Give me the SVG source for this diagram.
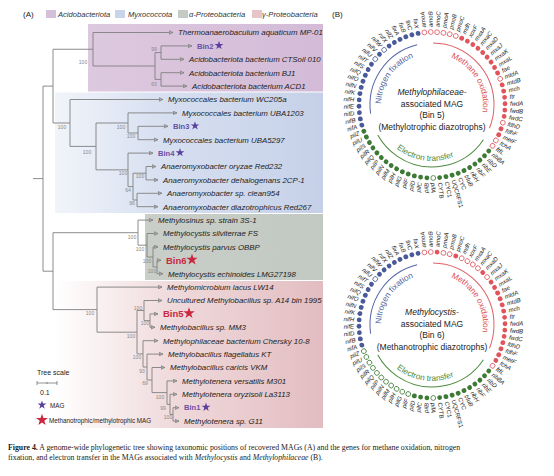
<svg xmlns="http://www.w3.org/2000/svg" width="554" height="476" viewBox="0 0 554 476">
<defs>
<style>
.t{font-family:"Liberation Sans",Arial,sans-serif;font-style:italic;font-size:7.85px;fill:#222}
.lg{font-family:"Liberation Sans",Arial,sans-serif;font-style:italic;font-size:7.6px;fill:#333}
.bs{font-family:"Liberation Sans",Arial,sans-serif;font-size:5px;fill:#888;text-anchor:middle}
.br{fill:none;stroke:#808080;stroke-width:0.9}
.tip{fill:none;stroke:#808080;stroke-width:0.9;marker-end:url(#ar)}
.binp{font-family:"Liberation Sans",Arial,sans-serif;font-weight:bold;font-size:7.6px;fill:#6a4fa5}
.binr{font-family:"Liberation Sans",Arial,sans-serif;font-weight:bold;font-size:9.5px;fill:#c9283e}
.sp{fill:#5b3f9c}
.sr{fill:#c9283e}
.g{font-family:"Liberation Sans",Arial,sans-serif;font-style:italic;font-size:6px;fill:#222}
.gu{font-style:normal}
.e{text-anchor:end}
.db{fill:#4a5a98}
.dbo{fill:#fff;stroke:#4a5a98;stroke-width:0.8}
.dr{fill:#e0555c}
.dro{fill:#fff;stroke:#e0555c;stroke-width:0.8}
.dg{fill:#3d7a35}
.dgo{fill:#fff;stroke:#3d7a35;stroke-width:0.8}
.ctr{font-family:"Liberation Sans",Arial,sans-serif;font-size:8.5px;fill:#222;text-anchor:middle}
.arcT{font-family:"Liberation Sans",Arial,sans-serif;font-size:8.3px;text-anchor:middle}
.cap{font-family:"Liberation Serif","Times New Roman",serif;font-size:7.8px;fill:#222}
.sm{font-family:"Liberation Sans",Arial,sans-serif;fill:#222}
</style>
<marker id="ar" viewBox="0 0 6 6" refX="5.5" refY="3" markerWidth="4.5" markerHeight="4.5" orient="auto" markerUnits="userSpaceOnUse"><path d="M0.5,0.6 L5.5,3 L0.5,5.4 Z" fill="#aaa" stroke="#777" stroke-width="0.8"/></marker>
<path id="star" d="M0,-1 L0.2245,-0.309 L0.951,-0.309 L0.363,0.118 L0.588,0.809 L0,0.382 L-0.588,0.809 L-0.363,0.118 L-0.951,-0.309 L-0.2245,-0.309 Z"/>
<linearGradient id="gA" gradientUnits="userSpaceOnUse" x1="88" y1="0" x2="323" y2="0"><stop offset="0" stop-color="#ddc9df"/><stop offset="1" stop-color="#d3bbd7"/></linearGradient>
<linearGradient id="gM" gradientUnits="userSpaceOnUse" x1="55" y1="0" x2="323" y2="0"><stop offset="0" stop-color="#d0daee" stop-opacity="0.3"/><stop offset="0.4" stop-color="#d0daee" stop-opacity="0.85"/><stop offset="1" stop-color="#c5d0e8"/></linearGradient>
<linearGradient id="gP" gradientUnits="userSpaceOnUse" x1="145" y1="0" x2="323" y2="0"><stop offset="0" stop-color="#c9cec9"/><stop offset="1" stop-color="#c2c8c2"/></linearGradient>
<linearGradient id="gG" gradientUnits="userSpaceOnUse" x1="55" y1="0" x2="323" y2="0"><stop offset="0" stop-color="#e8c8cb" stop-opacity="0"/><stop offset="0.45" stop-color="#e8c8cb" stop-opacity="0.7"/><stop offset="1" stop-color="#e2bcc0"/></linearGradient>
<path id="cw51" d="M0,51 A51,51 0 1,1 0,-51 A51,51 0 1,1 0,51"/>
<path id="ccw56" d="M0,-56 A56,56 0 1,0 0,56 A56,56 0 1,0 0,-56"/>
<g id="glabels" class="g">
<text transform="rotate(-96)" x="78" y="2.1">amoA</text>
<text transform="rotate(-91)" x="78" y="2.1">amoB</text>
<text transform="rotate(-86)" x="78" y="2.1">amoC</text>
<text transform="rotate(-81)" x="78" y="2.1">pmoA</text>
<text transform="rotate(-76)" x="78" y="2.1">pmoB</text>
<text transform="rotate(-71)" x="78" y="2.1">pmoC</text>
<text transform="rotate(-66)" x="78" y="2.1">mdh</text>
<text transform="rotate(-61)" x="78" y="2.1">xoxF</text>
<text transform="rotate(-56)" x="78" y="2.1">mxaA</text>
<text transform="rotate(-51)" x="78" y="2.1">mxaC</text>
<text transform="rotate(-46)" x="78" y="2.1">mxaD</text>
<text transform="rotate(-41)" x="78" y="2.1">mxaJ</text>
<text transform="rotate(-36)" x="78" y="2.1">mxaK</text>
<text transform="rotate(-31)" x="78" y="2.1">mxaL</text>
<text transform="rotate(-26)" x="78" y="2.1">fae</text>
<text transform="rotate(-21)" x="78" y="2.1">mtdA</text>
<text transform="rotate(-16)" x="78" y="2.1">mtdB</text>
<text transform="rotate(-11)" x="78" y="2.1">mch</text>
<text transform="rotate(-6)" x="78" y="2.1">ftr</text>
<text transform="rotate(-1)" x="78" y="2.1">fwdA</text>
<text transform="rotate(4)" x="78" y="2.1">fwdB</text>
<text transform="rotate(9)" x="78" y="2.1">fwdC</text>
<text transform="rotate(14)" x="78" y="2.1">fdhD</text>
<text transform="rotate(19)" x="78" y="2.1">fdhF</text>
<text transform="rotate(24)" x="78" y="2.1">metF</text>
<text transform="rotate(29)" x="78" y="2.1">fchA</text>
<text transform="rotate(34)" x="78" y="2.1">ftfL</text>
<text transform="rotate(39)" x="78" y="2.1">ribBA</text>
<text transform="rotate(44)" x="78" y="2.1">ribD</text>
<text transform="rotate(49)" x="78" y="2.1">ribE</text>
<text transform="rotate(54)" x="78" y="2.1">ribF</text>
<text transform="rotate(59)" x="78" y="2.1">ribH</text>
<text transform="rotate(64)" x="78" y="2.1">bfuB</text>
<text class="gu" transform="rotate(69)" x="78" y="2.1">CYC</text>
<text class="gu" transform="rotate(74)" x="78" y="2.1">UQCRFS1</text>
<text class="gu" transform="rotate(79)" x="78" y="2.1">CYC1</text>
<text class="gu" transform="rotate(84)" x="78" y="2.1">CYTB</text>
<text transform="rotate(89)" x="78" y="2.1">pilA</text>
<text class="e" transform="rotate(274)" x="-78" y="2.1">pilB</text>
<text class="e" transform="rotate(279)" x="-78" y="2.1">pilC</text>
<text class="e" transform="rotate(284)" x="-78" y="2.1">pilD</text>
<text class="e" transform="rotate(289)" x="-78" y="2.1">pilF</text>
<text class="e" transform="rotate(294)" x="-78" y="2.1">pilG</text>
<text class="e" transform="rotate(299)" x="-78" y="2.1">pilH</text>
<text class="e" transform="rotate(304)" x="-78" y="2.1">pilM</text>
<text class="e" transform="rotate(309)" x="-78" y="2.1">pilN</text>
<text class="e" transform="rotate(314)" x="-78" y="2.1">pilP</text>
<text class="e" transform="rotate(319)" x="-78" y="2.1">pilQ</text>
<text class="e" transform="rotate(324)" x="-78" y="2.1">pilR</text>
<text class="e" transform="rotate(329)" x="-78" y="2.1">pilS</text>
<text class="e" transform="rotate(334)" x="-78" y="2.1">pilU</text>
<text class="e" transform="rotate(339)" x="-78" y="2.1">pilZ</text>
<text class="e" transform="rotate(344)" x="-78" y="2.1">nifA</text>
<text class="e" transform="rotate(349)" x="-78" y="2.1">nifB</text>
<text class="e" transform="rotate(354)" x="-78" y="2.1">nifD</text>
<text class="e" transform="rotate(359)" x="-78" y="2.1">nifE</text>
<text class="e" transform="rotate(4)" x="-78" y="2.1">nifH</text>
<text class="e" transform="rotate(9)" x="-78" y="2.1">nifK</text>
<text class="e" transform="rotate(14)" x="-78" y="2.1">nifN</text>
<text class="e" transform="rotate(19)" x="-78" y="2.1">nifO</text>
<text class="e" transform="rotate(24)" x="-78" y="2.1">nifQ</text>
<text class="e" transform="rotate(29)" x="-78" y="2.1">nifS</text>
<text class="e" transform="rotate(34)" x="-78" y="2.1">nifT</text>
<text class="e" transform="rotate(39)" x="-78" y="2.1">nifU</text>
<text class="e" transform="rotate(44)" x="-78" y="2.1">nifV</text>
<text class="e" transform="rotate(49)" x="-78" y="2.1">nifW</text>
<text class="e" transform="rotate(54)" x="-78" y="2.1">nifX</text>
<text class="e" transform="rotate(59)" x="-78" y="2.1">nifZ</text>
<text class="e" transform="rotate(64)" x="-78" y="2.1">fixA</text>
<text class="e" transform="rotate(69)" x="-78" y="2.1">fixB</text>
<text class="e" transform="rotate(74)" x="-78" y="2.1">fixC</text>
<text class="e" transform="rotate(79)" x="-78" y="2.1">fixX</text>
</g>
<g id="arcs" fill="none" stroke-width="1">
<circle r="62" pathLength="360" stroke="#5466a6" stroke-dasharray="84 360" transform="rotate(172)"/>
<circle r="62" pathLength="360" stroke="#e06063" stroke-dasharray="111 360" transform="rotate(-89)"/>
<circle r="62" pathLength="360" stroke="#4a8a3c" stroke-dasharray="117 360" transform="rotate(34)"/>
</g>
</defs>
<rect width="554" height="476" fill="#fff"/>

<!-- Panel A legend -->
<g id="legendA">
<text class="sm" x="23" y="17" font-size="8">(A)</text>
<rect x="46" y="10" width="10" height="8" fill="#d6bfd9"/>
<text class="lg" x="58" y="17">Acidobacteriota</text>
<rect x="115" y="10" width="10" height="8" fill="#c9d4ea"/>
<text class="lg" x="128" y="17">Myxococcota</text>
<rect x="178" y="10" width="10" height="8" fill="#c4cac4"/>
<text class="lg" x="189" y="17">α-Proteobacteria</text>
<rect x="252" y="10" width="10" height="8" fill="#e6c4c7"/>
<text class="lg" x="262" y="17">γ-Proteobacteria</text>
</g>

<!-- bands -->
<g id="bands">
<rect x="88" y="24" width="235" height="67.5" fill="url(#gA)"/>
<rect x="55" y="92.5" width="268" height="120.5" fill="url(#gM)"/>
<rect x="145" y="214" width="178" height="66" fill="url(#gP)"/>
<rect x="55" y="281" width="268" height="147" fill="url(#gG)"/>
</g>

<!-- tree connectors -->
<g id="connectors">
<path class="br" d="M33,178.6 H43 M43,86.1 V271.2
M43,86.1 H53 M53,49.25 V123
M53,49.25 H93 M93,32.5 V66
M93,66 H155 M155,52.6 V79.4
M155,52.6 H161 M161,45.9 V59.3
M155,79.4 H161 M161,72.7 V86.1
M53,123 H70 M70,99.5 V146.4
M70,146.4 H96 M96,123 V169.85
M96,123 H128 M128,112.9 V133
M128,133 H138 M138,126.3 V139.7
M96,169.85 H128 M128,153.1 V186.6
M128,186.6 H133 M133,173.2 V200
M133,173.2 H146 M146,166.5 V179.9
M133,200 H137 M137,193.3 V206.7
M43,271.2 H53 M53,232.7 V309.6
M53,232.7 H138 M138,220.1 V245.2
M138,245.2 H147 M147,233.5 V257
M147,257 H153 M153,246.9 V267
M153,267 H157 M157,260.3 V273.7
M53,309.6 H97 M97,287.1 V332.2
M97,332.2 H137 M137,310.5 V353.9
M137,310.5 H144 M144,300.5 V320.6
M144,320.6 H150 M150,313.9 V327.3
M137,353.9 H143 M143,340.7 V367
M143,367 H147 M147,354.1 V380
M147,380 H152 M152,367.5 V392.6
M152,392.6 H167 M167,380.9 V404.4
M167,404.4 H170 M170,394.3 V414.4
M170,414.4 H173 M173,407.7 V421.1"/>
<path class="tip" d="M93,32.5 H173"/>
<path class="tip" d="M161,45.9 H192"/>
<path class="tip" d="M161,59.3 H184"/>
<path class="tip" d="M161,72.7 H184"/>
<path class="tip" d="M161,86.1 H187"/>
<path class="tip" d="M70,99.5 H163"/>
<path class="tip" d="M128,112.9 H177"/>
<path class="tip" d="M138,126.3 H168"/>
<path class="tip" d="M138,139.7 H158"/>
<path class="tip" d="M128,153.1 H153"/>
<path class="tip" d="M146,166.5 H156"/>
<path class="tip" d="M146,179.9 H158"/>
<path class="tip" d="M137,193.3 H162"/>
<path class="tip" d="M137,206.7 H158"/>
<path class="tip" d="M138,220.1 H153"/>
<path class="tip" d="M147,233.5 H158"/>
<path class="tip" d="M153,246.9 H158"/>
<path class="tip" d="M157,260.3 H161"/>
<path class="tip" d="M157,273.7 H163"/>
<path class="tip" d="M97,287.1 H162"/>
<path class="tip" d="M144,300.5 H162"/>
<path class="tip" d="M150,313.9 H158"/>
<path class="tip" d="M150,327.3 H155"/>
<path class="tip" d="M143,340.7 H158"/>
<path class="tip" d="M147,354.1 H163"/>
<path class="tip" d="M152,367.5 H165"/>
<path class="tip" d="M167,380.9 H177"/>
<path class="tip" d="M170,394.3 H177"/>
<path class="tip" d="M173,407.7 H179"/>
<path class="tip" d="M173,421.1 H179"/>
</g>

<!-- bootstrap values -->
<g id="bootstrap" class="bs">
<text x="83" y="64">100</text>
<text x="154" y="50.5">99</text>
<text x="154" y="86">63</text>
<text x="62" y="129">100</text>
<text x="87" y="154">100</text>
<text x="121" y="129">100</text>
<text x="131" y="138">100</text>
<text x="123" y="175">100</text>
<text x="140" y="178">100</text>
<text x="128" y="192">64</text>
<text x="132" y="205">96</text>
<text x="132" y="239">100</text>
<text x="140" y="251">100</text>
<text x="147" y="263">100</text>
<text x="152" y="273">100</text>
<text x="90" y="315">100</text>
<text x="131" y="338">100</text>
<text x="138" y="310">100</text>
<text x="145" y="325">100</text>
<text x="137" y="359">100</text>
<text x="142" y="373">93</text>
<text x="145" y="385">69</text>
<text x="160" y="399">100</text>
<text x="163" y="410">99</text>
<text x="168" y="419">100</text>
</g>

<!-- tips -->
<g id="tip-thermo"><text class="t" x="178" y="35.3">Thermoanaerobaculum aquaticum MP-01</text></g>
<g id="tip-bin2"><text class="binp" x="197" y="48.6">Bin2</text><use href="#star" class="sp" transform="translate(219,45.4) scale(4.6)"/></g>
<g id="tip-ctsoil"><text class="t" x="189" y="62.1">Acidobacteriota bacterium CTSoil 010</text></g>
<g id="tip-bj1"><text class="t" x="189" y="75.5">Acidobacteriota bacterium BJ1</text></g>
<g id="tip-acd1"><text class="t" x="192" y="88.9">Acidobacteriota bacterium ACD1</text></g>
<g id="tip-wc205a"><text class="t" x="168" y="102.3">Myxococcales bacterium WC205a</text></g>
<g id="tip-uba1203"><text class="t" x="182" y="115.7">Myxococcales bacterium UBA1203</text></g>
<g id="tip-bin3"><text class="binp" x="173" y="129">Bin3</text><use href="#star" class="sp" transform="translate(195,125.8) scale(4.6)"/></g>
<g id="tip-uba5297"><text class="t" x="163" y="142.5">Myxococcales bacterium UBA5297</text></g>
<g id="tip-bin4"><text class="binp" x="158" y="155.8">Bin4</text><use href="#star" class="sp" transform="translate(180,152.6) scale(4.6)"/></g>
<g id="tip-oryzae"><text class="t" x="161" y="169.3">Anaeromyxobacter oryzae Red232</text></g>
<g id="tip-dehal"><text class="t" x="163" y="182.7">Anaeromyxobacter dehalogenans 2CP-1</text></g>
<g id="tip-clean954"><text class="t" x="167" y="196.1">Anaeromyxobacter sp. clean954</text></g>
<g id="tip-red267"><text class="t" x="163" y="209.5">Anaeromyxobacter diazotrophicus Red267</text></g>
<g id="tip-methylosinus"><text class="t" x="158" y="222.9">Methylosinus sp. strain 3S-1</text></g>
<g id="tip-silviterrae"><text class="t" x="163" y="236.3">Methylocystis silviterrae FS</text></g>
<g id="tip-parvus"><text class="t" x="163" y="249.7">Methylocystis parvus OBBP</text></g>
<g id="tip-bin6"><text class="binr" x="166" y="263.6">Bin6</text><use href="#star" class="sr" transform="translate(192,259.6) scale(6)"/></g>
<g id="tip-echinoides"><text class="t" x="168" y="276.5">Methylocystis echinoides LMG27198</text></g>
<g id="tip-lacus"><text class="t" x="167" y="289.9">Methylomicrobium lacus LW14</text></g>
<g id="tip-a14"><text class="t" x="167" y="303.3">Uncultured Methylobacillus sp. A14 bin 1995</text></g>
<g id="tip-bin5"><text class="binr" x="163" y="317.2">Bin5</text><use href="#star" class="sr" transform="translate(189,313.2) scale(6)"/></g>
<g id="tip-mm3"><text class="t" x="160" y="330.1">Methylobacillus sp. MM3</text></g>
<g id="tip-chersky"><text class="t" x="163" y="343.5">Methylophilaceae bacterium Chersky 10-8</text></g>
<g id="tip-flagellatus"><text class="t" x="168" y="356.9">Methylobacillus flagellatus KT</text></g>
<g id="tip-caricis"><text class="t" x="170" y="370.3">Methylobacillus caricis VKM</text></g>
<g id="tip-versatilis"><text class="t" x="182" y="383.7">Methylotenera versatilis M301</text></g>
<g id="tip-oryzisoli"><text class="t" x="182" y="397.1">Methylotenera oryzisoli La3113</text></g>
<g id="tip-bin1"><text class="binp" x="184" y="410.4">Bin1</text><use href="#star" class="sp" transform="translate(206,407.2) scale(4.6)"/></g>
<g id="tip-g11"><text class="t" x="184" y="423.9">Methylotenera sp. G11</text></g>

<!-- scale and legend -->
<g id="scale">
<text class="sm" x="37" y="375" font-size="7">Tree scale</text>
<path d="M37,383 H57 M37,381 V385 M57,381 V385 M47,382 V384" stroke="#666" stroke-width="0.7" fill="none"/>
<text class="sm" x="40" y="394.5" font-size="7">0.1</text>
</g>
<g id="legendMAG">
<use href="#star" class="sp" transform="translate(42,405) scale(4.6)"/>
<text class="sm" x="50" y="407.5" font-size="6.3">MAG</text>
<use href="#star" class="sr" transform="translate(42,420) scale(6.3)"/>
<text class="sm" x="49" y="422.5" font-size="6.3">Methanotrophic/methylotrophic MAG</text>
</g>

<!-- Panel B -->
<text class="sm" x="332" y="17" font-size="8">(B)</text>

<g id="bin5-circle" transform="translate(432,105)">
<use href="#arcs"/>
<g><text class="arcT" fill="#4d5fa0" transform="rotate(305)"><textPath href="#cw51" startOffset="50%">Nitrogen fixation</textPath></text></g>
<g><text class="arcT" fill="#dc4f55" transform="rotate(60)"><textPath href="#cw51" startOffset="50%">Methane oxidation</textPath></text></g>
<g><text class="arcT" fill="#4a8a3c" transform="rotate(8)"><textPath href="#ccw56" startOffset="50%">Electron transfer</textPath></text></g>
<text class="ctr" y="-10" font-style="italic">Methylophilaceae-</text>
<text class="ctr" y="1.5">associated MAG</text>
<text class="ctr" y="13">(Bin 5)</text>
<text class="ctr" y="24.5">(Methylotrophic diazotrophs)</text>
<use href="#glabels"/>
<g>
<circle class="dro" transform="rotate(-6)" cy="-73" r="2.4"/>
<circle class="dro" transform="rotate(-1)" cy="-73" r="2.4"/>
<circle class="dro" transform="rotate(4)" cy="-73" r="2.4"/>
<circle class="dro" transform="rotate(9)" cy="-73" r="2.4"/>
<circle class="dro" transform="rotate(14)" cy="-73" r="2.4"/>
<circle class="dro" transform="rotate(19)" cy="-73" r="2.4"/>
<circle class="dr" transform="rotate(24)" cy="-73" r="2.4"/>
<circle class="dr" transform="rotate(29)" cy="-73" r="2.4"/>
<circle class="dr" transform="rotate(34)" cy="-73" r="2.4"/>
<circle class="dr" transform="rotate(39)" cy="-73" r="2.4"/>
<circle class="dr" transform="rotate(44)" cy="-73" r="2.4"/>
<circle class="dr" transform="rotate(49)" cy="-73" r="2.4"/>
<circle class="dr" transform="rotate(54)" cy="-73" r="2.4"/>
<circle class="dr" transform="rotate(59)" cy="-73" r="2.4"/>
<circle class="dr" transform="rotate(64)" cy="-73" r="2.4"/>
<circle class="dro" transform="rotate(69)" cy="-73" r="2.4"/>
<circle class="dr" transform="rotate(74)" cy="-73" r="2.4"/>
<circle class="dr" transform="rotate(79)" cy="-73" r="2.4"/>
<circle class="dr" transform="rotate(84)" cy="-73" r="2.4"/>
<circle class="dr" transform="rotate(89)" cy="-73" r="2.4"/>
<circle class="dr" transform="rotate(94)" cy="-73" r="2.4"/>
<circle class="dr" transform="rotate(99)" cy="-73" r="2.4"/>
<circle class="dro" transform="rotate(104)" cy="-73" r="2.4"/>
<circle class="dr" transform="rotate(109)" cy="-73" r="2.4"/>
<circle class="dr" transform="rotate(114)" cy="-73" r="2.4"/>
<circle class="dro" transform="rotate(119)" cy="-73" r="2.4"/>
<circle class="dro" transform="rotate(124)" cy="-73" r="2.4"/>
<circle class="dg" transform="rotate(129)" cy="-73" r="2.4"/>
<circle class="dg" transform="rotate(134)" cy="-73" r="2.4"/>
<circle class="dg" transform="rotate(139)" cy="-73" r="2.4"/>
<circle class="dg" transform="rotate(144)" cy="-73" r="2.4"/>
<circle class="dg" transform="rotate(149)" cy="-73" r="2.4"/>
<circle class="dg" transform="rotate(154)" cy="-73" r="2.4"/>
<circle class="dg" transform="rotate(159)" cy="-73" r="2.4"/>
<circle class="dg" transform="rotate(164)" cy="-73" r="2.4"/>
<circle class="dg" transform="rotate(169)" cy="-73" r="2.4"/>
<circle class="dg" transform="rotate(174)" cy="-73" r="2.4"/>
<circle class="dgo" transform="rotate(179)" cy="-73" r="2.4"/>
<circle class="dg" transform="rotate(184)" cy="-73" r="2.4"/>
<circle class="dg" transform="rotate(189)" cy="-73" r="2.4"/>
<circle class="dg" transform="rotate(194)" cy="-73" r="2.4"/>
<circle class="dg" transform="rotate(199)" cy="-73" r="2.4"/>
<circle class="dg" transform="rotate(204)" cy="-73" r="2.4"/>
<circle class="dg" transform="rotate(209)" cy="-73" r="2.4"/>
<circle class="dg" transform="rotate(214)" cy="-73" r="2.4"/>
<circle class="dg" transform="rotate(219)" cy="-73" r="2.4"/>
<circle class="dg" transform="rotate(224)" cy="-73" r="2.4"/>
<circle class="dg" transform="rotate(229)" cy="-73" r="2.4"/>
<circle class="dg" transform="rotate(234)" cy="-73" r="2.4"/>
<circle class="dg" transform="rotate(239)" cy="-73" r="2.4"/>
<circle class="dg" transform="rotate(244)" cy="-73" r="2.4"/>
<circle class="dg" transform="rotate(249)" cy="-73" r="2.4"/>
<circle class="db" transform="rotate(254)" cy="-73" r="2.4"/>
<circle class="db" transform="rotate(259)" cy="-73" r="2.4"/>
<circle class="db" transform="rotate(264)" cy="-73" r="2.4"/>
<circle class="db" transform="rotate(269)" cy="-73" r="2.4"/>
<circle class="db" transform="rotate(274)" cy="-73" r="2.4"/>
<circle class="db" transform="rotate(279)" cy="-73" r="2.4"/>
<circle class="db" transform="rotate(284)" cy="-73" r="2.4"/>
<circle class="db" transform="rotate(289)" cy="-73" r="2.4"/>
<circle class="db" transform="rotate(294)" cy="-73" r="2.4"/>
<circle class="db" transform="rotate(299)" cy="-73" r="2.4"/>
<circle class="db" transform="rotate(304)" cy="-73" r="2.4"/>
<circle class="dbo" transform="rotate(309)" cy="-73" r="2.4"/>
<circle class="db" transform="rotate(314)" cy="-73" r="2.4"/>
<circle class="dbo" transform="rotate(319)" cy="-73" r="2.4"/>
<circle class="db" transform="rotate(324)" cy="-73" r="2.4"/>
<circle class="db" transform="rotate(329)" cy="-73" r="2.4"/>
<circle class="db" transform="rotate(334)" cy="-73" r="2.4"/>
<circle class="db" transform="rotate(339)" cy="-73" r="2.4"/>
<circle class="db" transform="rotate(344)" cy="-73" r="2.4"/>
<circle class="db" transform="rotate(349)" cy="-73" r="2.4"/>
</g>
</g>

<g id="bin6-circle" transform="translate(432,325)">
<use href="#arcs"/>
<g><text class="arcT" fill="#4d5fa0" transform="rotate(305)"><textPath href="#cw51" startOffset="50%">Nitrogen fixation</textPath></text></g>
<g><text class="arcT" fill="#dc4f55" transform="rotate(60)"><textPath href="#cw51" startOffset="50%">Methane oxidation</textPath></text></g>
<g><text class="arcT" fill="#4a8a3c" transform="rotate(8)"><textPath href="#ccw56" startOffset="50%">Electron transfer</textPath></text></g>
<text class="ctr" y="-10" font-style="italic">Methylocystis-</text>
<text class="ctr" y="1.5">associated MAG</text>
<text class="ctr" y="13">(Bin 6)</text>
<text class="ctr" y="24.5">(Methanotrophic diazotrophs)</text>
<use href="#glabels"/>
<g>
<circle class="dro" transform="rotate(-6)" cy="-73" r="2.4"/>
<circle class="dro" transform="rotate(-1)" cy="-73" r="2.4"/>
<circle class="dr" transform="rotate(4)" cy="-73" r="2.4"/>
<circle class="dro" transform="rotate(9)" cy="-73" r="2.4"/>
<circle class="dro" transform="rotate(14)" cy="-73" r="2.4"/>
<circle class="dr" transform="rotate(19)" cy="-73" r="2.4"/>
<circle class="dro" transform="rotate(24)" cy="-73" r="2.4"/>
<circle class="dro" transform="rotate(29)" cy="-73" r="2.4"/>
<circle class="dro" transform="rotate(34)" cy="-73" r="2.4"/>
<circle class="dro" transform="rotate(39)" cy="-73" r="2.4"/>
<circle class="dr" transform="rotate(44)" cy="-73" r="2.4"/>
<circle class="dro" transform="rotate(49)" cy="-73" r="2.4"/>
<circle class="dr" transform="rotate(54)" cy="-73" r="2.4"/>
<circle class="dr" transform="rotate(59)" cy="-73" r="2.4"/>
<circle class="dr" transform="rotate(64)" cy="-73" r="2.4"/>
<circle class="dr" transform="rotate(69)" cy="-73" r="2.4"/>
<circle class="dr" transform="rotate(74)" cy="-73" r="2.4"/>
<circle class="dr" transform="rotate(79)" cy="-73" r="2.4"/>
<circle class="dr" transform="rotate(84)" cy="-73" r="2.4"/>
<circle class="dr" transform="rotate(89)" cy="-73" r="2.4"/>
<circle class="dr" transform="rotate(94)" cy="-73" r="2.4"/>
<circle class="dr" transform="rotate(99)" cy="-73" r="2.4"/>
<circle class="dr" transform="rotate(104)" cy="-73" r="2.4"/>
<circle class="dr" transform="rotate(109)" cy="-73" r="2.4"/>
<circle class="dr" transform="rotate(114)" cy="-73" r="2.4"/>
<circle class="dr" transform="rotate(119)" cy="-73" r="2.4"/>
<circle class="dro" transform="rotate(124)" cy="-73" r="2.4"/>
<circle class="dg" transform="rotate(129)" cy="-73" r="2.4"/>
<circle class="dg" transform="rotate(134)" cy="-73" r="2.4"/>
<circle class="dg" transform="rotate(139)" cy="-73" r="2.4"/>
<circle class="dg" transform="rotate(144)" cy="-73" r="2.4"/>
<circle class="dg" transform="rotate(149)" cy="-73" r="2.4"/>
<circle class="dg" transform="rotate(154)" cy="-73" r="2.4"/>
<circle class="dg" transform="rotate(159)" cy="-73" r="2.4"/>
<circle class="dg" transform="rotate(164)" cy="-73" r="2.4"/>
<circle class="dg" transform="rotate(169)" cy="-73" r="2.4"/>
<circle class="dg" transform="rotate(174)" cy="-73" r="2.4"/>
<circle class="dgo" transform="rotate(179)" cy="-73" r="2.4"/>
<circle class="dg" transform="rotate(184)" cy="-73" r="2.4"/>
<circle class="dg" transform="rotate(189)" cy="-73" r="2.4"/>
<circle class="dg" transform="rotate(194)" cy="-73" r="2.4"/>
<circle class="dgo" transform="rotate(199)" cy="-73" r="2.4"/>
<circle class="dgo" transform="rotate(204)" cy="-73" r="2.4"/>
<circle class="dgo" transform="rotate(209)" cy="-73" r="2.4"/>
<circle class="dgo" transform="rotate(214)" cy="-73" r="2.4"/>
<circle class="dgo" transform="rotate(219)" cy="-73" r="2.4"/>
<circle class="dgo" transform="rotate(224)" cy="-73" r="2.4"/>
<circle class="dgo" transform="rotate(229)" cy="-73" r="2.4"/>
<circle class="dgo" transform="rotate(234)" cy="-73" r="2.4"/>
<circle class="dgo" transform="rotate(239)" cy="-73" r="2.4"/>
<circle class="dgo" transform="rotate(244)" cy="-73" r="2.4"/>
<circle class="dgo" transform="rotate(249)" cy="-73" r="2.4"/>
<circle class="db" transform="rotate(254)" cy="-73" r="2.4"/>
<circle class="db" transform="rotate(259)" cy="-73" r="2.4"/>
<circle class="db" transform="rotate(264)" cy="-73" r="2.4"/>
<circle class="db" transform="rotate(269)" cy="-73" r="2.4"/>
<circle class="db" transform="rotate(274)" cy="-73" r="2.4"/>
<circle class="db" transform="rotate(279)" cy="-73" r="2.4"/>
<circle class="db" transform="rotate(284)" cy="-73" r="2.4"/>
<circle class="db" transform="rotate(289)" cy="-73" r="2.4"/>
<circle class="db" transform="rotate(294)" cy="-73" r="2.4"/>
<circle class="db" transform="rotate(299)" cy="-73" r="2.4"/>
<circle class="db" transform="rotate(304)" cy="-73" r="2.4"/>
<circle class="dbo" transform="rotate(309)" cy="-73" r="2.4"/>
<circle class="db" transform="rotate(314)" cy="-73" r="2.4"/>
<circle class="db" transform="rotate(319)" cy="-73" r="2.4"/>
<circle class="db" transform="rotate(324)" cy="-73" r="2.4"/>
<circle class="db" transform="rotate(329)" cy="-73" r="2.4"/>
<circle class="db" transform="rotate(334)" cy="-73" r="2.4"/>
<circle class="db" transform="rotate(339)" cy="-73" r="2.4"/>
<circle class="db" transform="rotate(344)" cy="-73" r="2.4"/>
<circle class="db" transform="rotate(349)" cy="-73" r="2.4"/>
</g>
</g>

<!-- caption -->
<g id="caption" class="cap">
<text x="8" y="450"><tspan font-weight="bold">Figure 4.</tspan> A genome-wide phylogenetic tree showing taxonomic positions of recovered MAGs (A) and the genes for methane oxidation, nitrogen</text>
<text x="8" y="460">fixation, and electron transfer in the MAGs associated with <tspan font-style="italic">Methylocystis</tspan> and <tspan font-style="italic">Methylophilaceae</tspan> (B).</text>
</g>
</svg>
